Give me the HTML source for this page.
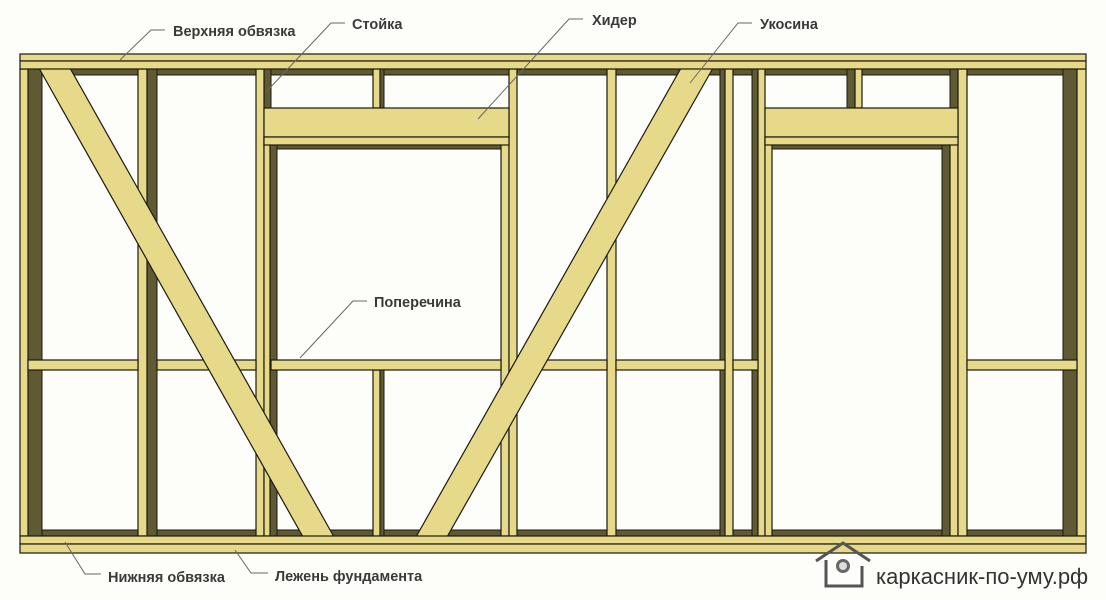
<!DOCTYPE html>
<html><head><meta charset="utf-8"><style>
html,body{margin:0;padding:0;background:#fdfdf9;}
svg{display:block}
text{font-family:"Liberation Sans",sans-serif;font-weight:bold;fill:#3a3a3a;font-size:14.5px}
</style></head><body>
<svg width="1106" height="600" viewBox="0 0 1106 600" xmlns="http://www.w3.org/2000/svg">
<defs>
<style>
.f{fill:#e7d98a;stroke:#1a1a10;stroke-width:1.2}
.s{fill:#5f5a33;stroke:#1a1a10;stroke-width:1}
.l{stroke:#666;stroke-width:1;fill:none}
</style>
</defs>
<rect width="1106" height="600" fill="#fdfdf9"/>
<rect class="s" x="28" y="69" width="1050" height="6"/>
<rect class="s" x="28" y="530" width="1050" height="6"/>

<rect class="s" x="28" y="69" width="14" height="467"/>
<rect class="f" x="20" y="69" width="8" height="467"/>
<rect class="s" x="147" y="69" width="10" height="467"/>
<rect class="f" x="138" y="69" width="9" height="467"/>
<rect class="s" x="264" y="69" width="7" height="40"/>
<rect class="f" x="256" y="69" width="8" height="467"/>
<rect class="s" x="270" y="145" width="7" height="391"/>
<rect class="f" x="264" y="137" width="6" height="399"/>
<rect class="s" x="380" y="69" width="4" height="39"/>
<rect class="f" x="373" y="69" width="7" height="39"/>
<rect class="s" x="380" y="370" width="4" height="166"/>
<rect class="f" x="373" y="370" width="7" height="166"/>
<rect class="f" x="501" y="137" width="8" height="399"/>
<rect class="f" x="509" y="69" width="8" height="467"/>
<rect class="f" x="607" y="69" width="9" height="467"/>
<rect class="s" x="720" y="69" width="5" height="467"/>
<rect class="f" x="725" y="69" width="8" height="467"/>
<rect class="s" x="752" y="69" width="6" height="467"/>
<rect class="f" x="758" y="69" width="7" height="467"/>
<rect class="f" x="765" y="137" width="7" height="399"/>
<rect class="s" x="847" y="69" width="8" height="39"/>
<rect class="f" x="855" y="69" width="7" height="39"/>
<rect class="s" x="942" y="145" width="8" height="391"/>
<rect class="s" x="950" y="69" width="8" height="40"/>
<rect class="f" x="950" y="137" width="8" height="399"/>
<rect class="f" x="958" y="69" width="9" height="467"/>
<rect class="s" x="1063" y="69" width="14" height="467"/>
<rect class="f" x="1077" y="69" width="9" height="467"/>

<rect class="f" x="264" y="108" width="245" height="29"/>
<rect class="f" x="264" y="137" width="245" height="8"/>
<rect class="s" x="277" y="145" width="224" height="4"/>
<rect class="f" x="765" y="108" width="193" height="29"/>
<rect class="f" x="765" y="137" width="193" height="8"/>
<rect class="s" x="772" y="145" width="170" height="4"/>

<rect class="f" x="28" y="360" width="110" height="10"/>
<rect class="f" x="157" y="360" width="99" height="10"/>
<rect class="f" x="271" y="360" width="230" height="10"/>
<rect class="f" x="517" y="360" width="90" height="10"/>
<rect class="f" x="616" y="360" width="109" height="10"/>
<rect class="f" x="733" y="360" width="25" height="10"/>
<rect class="f" x="967" y="360" width="110" height="10"/>

<polygon class="f" points="35,61 66,61 338,544 307,544"/>
<polygon class="f" points="685,61 717,61 443,544 412,544"/>

<rect class="f" x="20" y="54" width="1066" height="7"/>
<rect class="f" x="20" y="61" width="1066" height="8"/>
<rect class="f" x="20" y="536" width="1066" height="8"/>
<rect class="f" x="20" y="544" width="1066" height="9"/>

<polyline class="l" points="165,30 151,30 120,60"/>
<polyline class="l" points="345,23 331,23 266,92"/>
<polyline class="l" points="583,19 569,19 478,119"/>
<polyline class="l" points="752,23 738,23 690,83"/>
<polyline class="l" points="367,301 353,301 300,358"/>
<polyline class="l" points="101,574 85,574 65,542"/>
<polyline class="l" points="268,573 251,573 235,550"/>

<text x="173" y="36">Верхняя обвязка</text>
<text x="352" y="29">Стойка</text>
<text x="592" y="25">Хидер</text>
<text x="760" y="29">Укосина</text>
<text x="374" y="307">Поперечина</text>
<text x="108" y="582">Нижняя обвязка</text>
<text x="275" y="581">Лежень фундамента</text>

<polyline points="816,561 843,543 870,561" fill="none" stroke="#555" stroke-width="3"/>
<polyline points="826,560 826,586 862,586 862,566" fill="none" stroke="#555" stroke-width="3"/>
<circle cx="843" cy="566" r="7" fill="#666"/>
<circle cx="843" cy="566" r="4" fill="#ddd"/>
<text x="876" y="584" style="font-weight:normal;font-size:22px;fill:#333">каркасник-по-уму.рф</text>
</svg>
</body></html>
